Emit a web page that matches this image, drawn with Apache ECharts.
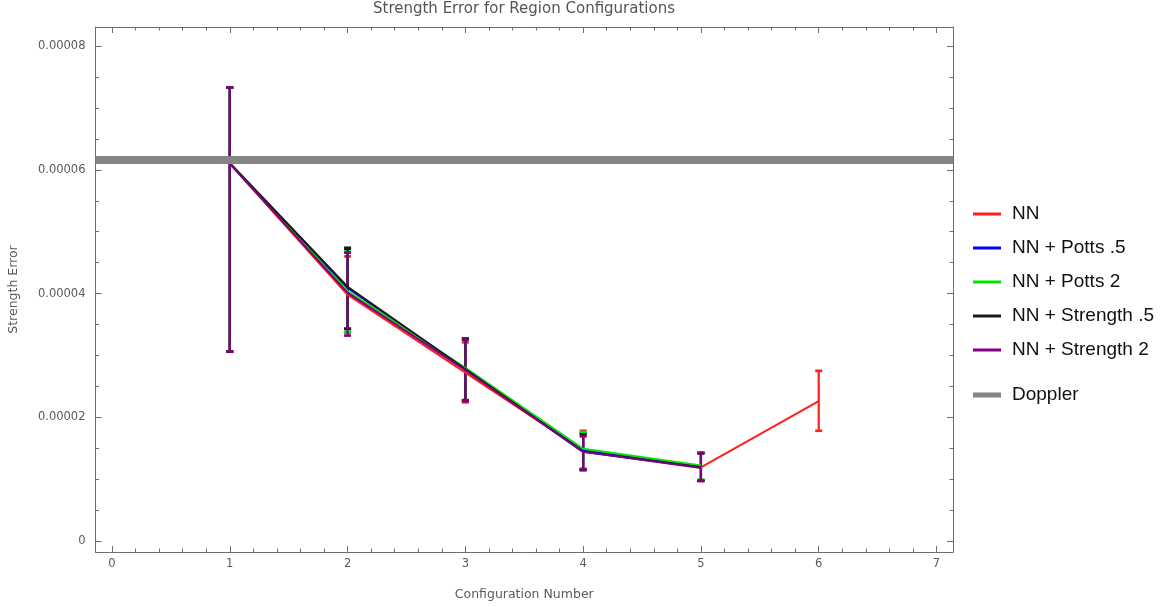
<!DOCTYPE html>
<html>
<head>
<meta charset="utf-8">
<title>Strength Error for Region Configurations</title>
<script src="https://cdn.jsdelivr.net/npm/echarts@6/dist/echarts.min.js"></script>
<style>
    html, body { margin: 0; padding: 0; background: #fff; }
    #chart { width: 1168px; height: 607px; }
</style>
</head>
<body>
<div id="chart"></div>
<script>
// 数据 (configuration number -> strength error)
var configs = [1, 2, 3, 4, 5, 6];

var nnVal   = [6.10e-5, 3.98e-5, 2.72e-5, 1.46e-5, 1.19e-5, 2.26e-5];
var nnLow   = [3.06e-5, 3.37e-5, 2.24e-5, 1.14e-5, 0.97e-5, 1.78e-5];
var nnHigh  = [7.33e-5, 4.60e-5, 3.21e-5, 1.78e-5, 1.42e-5, 2.75e-5];

var potts5Val  = [6.10e-5, 4.09e-5, 2.78e-5, 1.46e-5, 1.20e-5];
var potts5Low  = [3.06e-5, 3.43e-5, 2.27e-5, 1.15e-5, 0.98e-5];
var potts5High = [7.33e-5, 4.72e-5, 3.27e-5, 1.74e-5, 1.42e-5];

var potts2Val  = [6.10e-5, 4.04e-5, 2.80e-5, 1.49e-5, 1.22e-5];
var potts2Low  = [3.06e-5, 3.38e-5, 2.28e-5, 1.17e-5, 0.99e-5];
var potts2High = [7.33e-5, 4.68e-5, 3.27e-5, 1.76e-5, 1.43e-5];

var str5Val  = [6.11e-5, 4.11e-5, 2.78e-5, 1.44e-5, 1.19e-5];
var str5Low  = [3.06e-5, 3.43e-5, 2.27e-5, 1.15e-5, 0.97e-5];
var str5High = [7.33e-5, 4.74e-5, 3.27e-5, 1.72e-5, 1.42e-5];

var str2Val  = [6.10e-5, 4.01e-5, 2.76e-5, 1.44e-5, 1.18e-5];
var str2Low  = [3.06e-5, 3.32e-5, 2.26e-5, 1.15e-5, 0.97e-5];
var str2High = [7.33e-5, 4.66e-5, 3.25e-5, 1.69e-5, 1.42e-5];

var dopplerVal = 6.16e-5;

// 刻度
var xMajorTicks = [0, 1, 2, 3, 4, 5, 6, 7];
var yMajorTicks = [0, 0.00002, 0.00004, 0.00006, 0.00008];
var yTickLabels = ['0', '0.00002', '0.00004', '0.00006', '0.00008'];

var xMinorTicks = [];
for (var i = 1; i < 35; i++) {
    if (i % 5) xMinorTicks.push(i / 5);
}
var yMinorTicks = [];
for (var j = 1; j < 17; j++) {
    if (j % 4) yMinorTicks.push(j * 0.000005);
}

var X_MIN = -0.14, X_MAX = 7.14;
var Y_MIN = -0.0000018, Y_MAX = 0.0000831;
var frameColor = '#6e6e6e';
var labelFont = 'DejaVu Sans';

// 框线 + 刻度 (frame with inside ticks on every side)
function frameAxis(pos, ticks, len, showLine, showLabel) {
    var isX = (pos === 'bottom' || pos === 'top');
    return {
        type: 'value',
        gridIndex: 0,
        position: pos,
        min: isX ? X_MIN : Y_MIN,
        max: isX ? X_MAX : Y_MAX,
        axisLine: {
            show: showLine,
            onZero: false,
            lineStyle: { color: frameColor, width: 1 }
        },
        axisTick: {
            show: true,
            inside: true,
            length: len,
            customValues: ticks,
            lineStyle: { color: frameColor, width: 1 }
        },
        axisLabel: {
            show: showLabel,
            customValues: ticks,
            margin: isX ? 6 : 10,
            color: '#5a5a5a',
            fontFamily: labelFont,
            fontSize: 11.5,
            formatter: function (v) {
                if (isX) return String(Math.round(v));
                var k = Math.round(v / 0.00002);
                return yTickLabels[k];
            }
        },
        splitLine: { show: false }
    };
}

var xBottom = frameAxis('bottom', xMajorTicks, 6, true, true);
xBottom.name = 'Configuration Number';
xBottom.nameLocation = 'middle';
xBottom.nameGap = 36;
xBottom.nameTextStyle = { color: '#5a5a5a', fontFamily: labelFont, fontSize: 12.5 };

var yLeft = frameAxis('left', yMajorTicks, 6, true, true);
yLeft.name = 'Strength Error';
yLeft.nameLocation = 'middle';
yLeft.nameRotate = 90;
yLeft.nameGap = 75;
yLeft.nameTextStyle = { color: '#5a5a5a', fontFamily: labelFont, fontSize: 12.5 };

// 误差线
function renderErr(params, api) {
    var x = api.value(0);
    var lo = api.coord([x, api.value(1)]);
    var hi = api.coord([x, api.value(2)]);
    var c = api.visual('color');
    var w = 3.5;
    var st = { stroke: c, lineWidth: 2.2 };
    var capSt = { stroke: c, lineWidth: 2.6 };
    return {
        type: 'group',
        children: [
            { type: 'line', shape: { x1: lo[0], y1: lo[1], x2: hi[0], y2: hi[1] }, style: st },
            { type: 'line', shape: { x1: lo[0] - w, y1: lo[1], x2: lo[0] + w, y2: lo[1] }, style: capSt },
            { type: 'line', shape: { x1: hi[0] - w, y1: hi[1], x2: hi[0] + w, y2: hi[1] }, style: capSt }
        ]
    };
}

var groups = [
    ['NN', '#ff1f1f', nnVal, nnLow, nnHigh],
    ['NN + Potts .5', '#0000ff', potts5Val, potts5Low, potts5High],
    ['NN + Potts 2', '#00e600', potts2Val, potts2Low, potts2High],
    ['NN + Strength .5', '#1a1a1a', str5Val, str5Low, str5High],
    ['NN + Strength 2', '#800080', str2Val, str2Low, str2High]
];

var series = [];
groups.forEach(function (g) {
    var lineData = [], errData = [];
    for (var k = 0; k < g[2].length; k++) {
        lineData.push([configs[k], g[2][k]]);
        errData.push([configs[k], g[3][k], g[4][k]]);
    }
    series.push({
        name: g[0],
        type: 'line',
        color: g[1],
        data: lineData,
        symbol: 'none',
        lineStyle: { color: g[1], width: 2 },
        silent: true,
        z: 2
    });
    series.push({
        name: g[0] + ' err',
        type: 'custom',
        color: g[1],
        data: errData,
        renderItem: renderErr,
        encode: { x: 0, y: [1, 2] },
        silent: true,
        z: 2
    });
});

// Doppler 水平线, across the whole frame
series.push({
    name: 'Doppler',
    type: 'line',
    color: '#858585',
    data: [[X_MIN, dopplerVal], [X_MAX, dopplerVal]],
    symbol: 'none',
    lineStyle: { color: '#858585', width: 8 },
    silent: true,
    z: 3
});

var legendText = { color: '#111', fontFamily: 'Liberation Sans', fontSize: 19, lineHeight: 20, padding: [0, 0, 0, 6] };

var option = {
    animation: false,
    backgroundColor: '#fff',
    title: {
        text: 'Strength Error for Region Configurations',
        left: 524,
        top: 2,
        padding: 0,
        textAlign: 'center',
        textStyle: { color: '#555', fontFamily: labelFont, fontSize: 15, fontWeight: 'normal' }
    },
    grid: {
        left: 95.5,
        right: 215,
        top: 27,
        bottom: 55,
        outerBoundsMode: 'none',
        containLabel: false
    },
    legend: [{
        orient: 'vertical',
        left: 973,
        top: 204,
        padding: 0,
        itemGap: 14,
        itemWidth: 28,
        itemHeight: 3,
        icon: 'rect',
        selectedMode: false,
        textStyle: legendText,
        data: groups.map(function (g) { return g[0]; })
    }, {
        orient: 'vertical',
        left: 973,
        top: 385,
        padding: 0,
        itemWidth: 28,
        itemHeight: 5,
        icon: 'rect',
        selectedMode: false,
        textStyle: legendText,
        data: ['Doppler']
    }],
    xAxis: [
        xBottom,
        frameAxis('bottom', xMinorTicks, 3.5, false, false),
        frameAxis('top', xMajorTicks, 6, true, false),
        frameAxis('top', xMinorTicks, 3.5, false, false)
    ],
    yAxis: [
        yLeft,
        frameAxis('left', yMinorTicks, 3.5, false, false),
        frameAxis('right', yMajorTicks, 6, true, false),
        frameAxis('right', yMinorTicks, 3.5, false, false)
    ],
    series: series
};

var chart = echarts.init(document.getElementById('chart'));
chart.setOption(option);
</script>
</body>
</html>
